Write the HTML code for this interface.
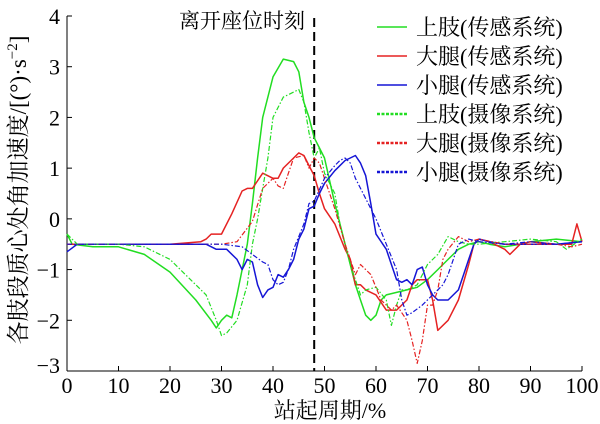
<!DOCTYPE html>
<html><head><meta charset="utf-8"><style>
body{margin:0;background:#fff;}
svg{display:block;font-family:"Liberation Serif","Noto Serif CJK SC",serif;}
</style></head><body>
<svg id="chart" width="600" height="424" viewBox="0 0 600 424">
<g id="axes"></g>
<g id="series"></g>
<g id="legend"></g>
</svg>
<script>
const xTicks=[0,10,20,30,40,50,60,70,80,90,100];
const yTicks=[-3,-2,-1,0,1,2,3,4];
const seriesNames=["上肢(传感系统)","大腿(传感系统)","小腿(传感系统)","上肢(摄像系统)","大腿(摄像系统)","小腿(摄像系统)"];
const seriesColors=["#22dd22","#e52222","#1515d5","#22dd22","#e52222","#1515d5"];
const liftOffX=48;
const gsX=[0,1,5,10,15,20,25,28,29,30,31,32,33,35,36,37,38,40,42,44,45,46,47,48,49,50,52,54,56,57,58,59,60,61,62,64,66,68,70,72,74,76,78,80,82,85,88,90,95,100];
const gsY=[-0.3,-0.5,-0.55,-0.55,-0.7,-1.05,-1.6,-2.0,-2.15,-2.0,-1.9,-1.95,-1.5,-0.5,0.3,1.2,2.0,2.8,3.15,3.1,2.9,2.3,2.0,1.6,1.4,1.2,0.3,-0.5,-1.3,-1.6,-1.9,-2.0,-1.9,-1.6,-1.5,-1.45,-1.4,-1.35,-1.2,-1.0,-0.8,-0.6,-0.5,-0.45,-0.5,-0.55,-0.5,-0.45,-0.4,-0.45];
const rsX=[0,10,20,26,27,28,30,32,34,35,36,38,40,41,42,44,45,46,47,48,49,50,52,54,55,56,57,58,60,62,64,66,67,68,70,71,72,74,76,78,79,80,82,85,86,88,90,95,98,99,100];
const rsY=[-0.5,-0.5,-0.5,-0.45,-0.4,-0.3,-0.3,0.1,0.55,0.6,0.6,0.9,0.8,0.8,1.0,1.2,1.3,1.25,1.05,0.85,0.5,0.2,-0.1,-0.6,-0.8,-1.3,-1.3,-1.4,-1.5,-1.8,-1.8,-1.6,-1.3,-1.2,-1.2,-1.6,-2.2,-2.0,-1.6,-0.9,-0.5,-0.4,-0.45,-0.6,-0.7,-0.5,-0.45,-0.5,-0.5,-0.1,-0.45];
const bsX=[0,2,10,20,25,27,29,31,33,34,35,36,37,38,39,40,41,42,43,44,45,46,47,48,49,50,52,54,56,57,58,59,60,62,63,64,65,66,67,68,69,70,71,72,74,76,77,78,79,80,82,85,90,95,100];
const bsY=[-0.65,-0.5,-0.5,-0.5,-0.5,-0.5,-0.6,-0.6,-0.8,-1.0,-0.8,-0.85,-1.3,-1.55,-1.4,-1.35,-1.1,-1.15,-1.0,-0.8,-0.4,-0.2,0.2,0.25,0.5,0.7,0.95,1.15,1.25,1.1,0.85,0.3,-0.3,-0.6,-0.9,-1.2,-1.25,-1.2,-1.3,-1.0,-0.95,-1.3,-1.5,-1.6,-1.6,-1.4,-1.1,-0.8,-0.5,-0.4,-0.45,-0.5,-0.5,-0.5,-0.45];
const gcX=[0,2,10,15,20,24,27,29,30,31,33,35,36,37,38,39,40,42,44,45,46,47,48,49,50,52,53,55,57,58,60,62,63,64,65,66,68,70,72,74,76,78,80,85,90,95,97,100];
const gcY=[-0.3,-0.5,-0.5,-0.55,-0.8,-1.2,-1.5,-2.0,-2.3,-2.25,-2.0,-1.3,-0.5,0,0.6,1.2,2.0,2.4,2.5,2.55,2.3,1.7,1.2,1.4,0.9,0.5,-0.1,-0.9,-1.5,-1.4,-1.35,-1.6,-2.1,-1.7,-1.4,-1.4,-1.3,-0.9,-0.7,-0.35,-0.45,-0.5,-0.5,-0.45,-0.4,-0.45,-0.6,-0.4];
const rcX=[0,10,20,27,30,33,36,38,40,41,42,43,44,46,47,48,49,50,52,54,55,56,57,58,59,61,62,63,64,66,67,68,69,70,71,72,73,74,76,78,80,85,90,95,98,100];
const rcY=[-0.5,-0.5,-0.5,-0.5,-0.5,-0.45,-0.05,0.6,0.8,0.65,0.6,0.9,1.2,1.25,1.0,1.2,1.1,0.8,0.2,-0.5,-0.8,-1.1,-0.9,-1.0,-1.1,-1.6,-1.7,-1.8,-1.7,-2.0,-2.4,-2.85,-2.4,-1.7,-1.7,-1.4,-0.8,-0.6,-0.35,-0.45,-0.4,-0.5,-0.5,-0.5,-0.55,-0.5];
const bcX=[0,10,20,30,34,36,38,39,40,41,42,43,44,46,47,48,50,52,53,54,55,56,58,60,62,64,65,66,67,69,71,72,73,74,75,76,78,80,85,90,95,100];
const bcY=[-0.5,-0.5,-0.5,-0.5,-0.55,-0.7,-0.85,-0.9,-1.2,-1.3,-1.25,-1.0,-0.6,-0.1,0.3,0.35,0.8,1.05,1.15,1.2,1.1,0.8,0.4,0.0,-0.5,-1.0,-1.6,-1.9,-1.85,-1.7,-1.5,-1.4,-1.3,-1.1,-0.8,-0.5,-0.4,-0.45,-0.5,-0.45,-0.5,-0.45];

const X0=67,X1=582,Y0=371,Y1=16;
const sx=v=>X0+(v-0)/100*(X1-X0);
const sy=v=>Y0-(v+3)/7*(Y0-Y1);
const NS="http://www.w3.org/2000/svg";
function mk(tag,attrs,parent,text){const e=document.createElementNS(NS,tag);for(const k in attrs)e.setAttribute(k,attrs[k]);if(text!==undefined)e.textContent=text;parent.appendChild(e);return e;}
const axes=document.getElementById('axes'),ser=document.getElementById('series'),leg=document.getElementById('legend');

let l=mk('line',{x1:X0,y1:Y1,x2:X0,y2:Y0,stroke:'#000','stroke-width':1},axes);


l=mk('line',{x1:X0,y1:Y0,x2:X1,y2:Y0,stroke:'#000','stroke-width':1},axes);


xTicks.forEach(t=>{
 const tk=mk('line',{x1:sx(t),y1:Y0,x2:sx(t),y2:Y0-5,stroke:'#000'},axes);
 
 
 const tx=mk('text',{x:sx(t),y:Y0+22,'font-size':22,'text-anchor':'middle'},axes,String(t));
 
 
});
yTicks.forEach(t=>{
 const tk=mk('line',{x1:X0,y1:sy(t),x2:X0+5,y2:sy(t),stroke:'#000'},axes);
 
 
 const tx=mk('text',{x:X0-7,y:sy(t)+(t===-3?2:8),'font-size':22,'text-anchor':'end'},axes,t<0?'\u2212'+Math.abs(t):String(t));
 
 
});
let t=mk('text',{x:330,y:418,'font-size':22,'text-anchor':'middle'},axes,'站起周期/%');


t=mk('text',{x:0,y:0,'font-size':23,'text-anchor':'middle',transform:'translate(26,190) rotate(-90)'},axes,'各肢段质心处角加速度/[(°)·s');


mk('tspan',{dy:-9,'font-size':15},t,'−2');
mk('tspan',{dy:9},t,']');
t=mk('text',{x:242,y:28,'font-size':21,'text-anchor':'middle'},axes,'离开座位时刻');


l=mk('line',{x1:sx(liftOffX),y1:Y1+2,x2:sx(liftOffX),y2:Y0,stroke:'#000','stroke-width':2,'stroke-dasharray':'9,5'},axes);



const data=[[gsX,gsY],[rsX,rsY],[bsX,bsY],[gcX,gcY],[rcX,rcY],[bcX,bcY]];
const keys=['upper-limb-sensor','thigh-sensor','shank-sensor','upper-limb-camera','thigh-camera','shank-camera'];
data.forEach((d,i)=>{
 const pts=d[0].map((x,j)=>sx(x).toFixed(1)+','+sy(d[1][j]).toFixed(1)).join(' ');
 const dashed=i>=3;
 const p=mk('polyline',{points:pts,fill:'none',stroke:seriesColors[i],'stroke-width':dashed?1.2:1.5,'stroke-dasharray':dashed?'5,2,1.5,2':'none','stroke-linejoin':'round'},ser);
 
 
});
const rowsY=[27,56,85,114,143,172];
seriesNames.forEach((n,i)=>{
 const dashed=i>=3;
 const ln=mk('line',{x1:377,y1:rowsY[i],x2:407,y2:rowsY[i],stroke:seriesColors[i],'stroke-width':dashed?2.5:1.5,'stroke-dasharray':dashed?'3,1.5':'none'},leg);
 
 
 const tx=mk('text',{x:416,y:rowsY[i]+8,'font-size':22},leg,n);
 
 
});
</script>
</body></html>
